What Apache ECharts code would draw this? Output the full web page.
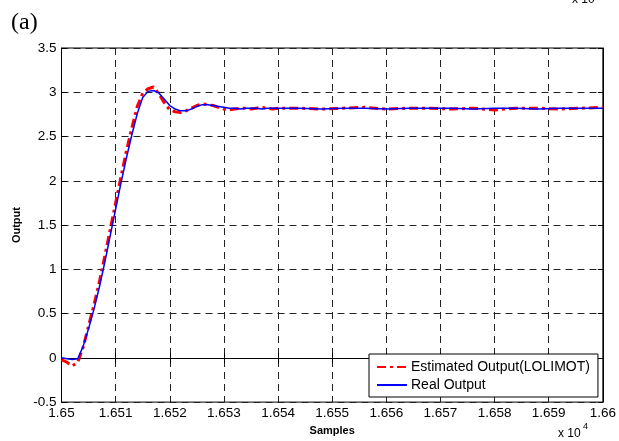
<!DOCTYPE html>
<html>
<head>
<meta charset="utf-8">
<script src="https://cdn.jsdelivr.net/npm/echarts@6/dist/echarts.min.js"></script>
<style>
  html, body { margin: 0; padding: 0; background: #fff; }
  #chart { width: 619px; height: 441px; }
</style>
</head>
<body>
<div id="chart"></div>
<script>
// x values (samples)
let samples = [
    16500, 16501, 16502, 16503, 16504, 16505, 16506, 16507, 16508, 16509,
    16510, 16511, 16512, 16513, 16514, 16515, 16516, 16517, 16518, 16519,
    16520, 16521, 16522, 16523, 16524, 16525, 16526, 16527, 16528, 16529,
    16530, 16531, 16532, 16533, 16534, 16535, 16536, 16537, 16538, 16539,
    16540, 16544, 16548, 16552, 16556, 16560, 16564, 16568, 16572, 16576,
    16580, 16584, 16588, 16592, 16596, 16600
];
// estimated output (LOLIMOT)
let estimated = [
    -0.02, -0.05, -0.09, -0.05, 0.12, 0.36, 0.60, 0.86, 1.15, 1.45,
    1.75, 2.05, 2.34, 2.60, 2.84, 2.99, 3.04, 3.06, 2.98, 2.88,
    2.80, 2.78, 2.77, 2.79, 2.82, 2.85, 2.87, 2.86, 2.85, 2.83,
    2.81, 2.80, 2.81, 2.82, 2.82, 2.81, 2.82, 2.83, 2.82, 2.81,
    2.82, 2.82, 2.81, 2.82, 2.83, 2.81, 2.82, 2.82, 2.81, 2.82,
    2.80, 2.82, 2.82, 2.81, 2.82, 2.83
];
// real output
let real = [
    0.00, -0.01, -0.02, -0.01, 0.13, 0.33, 0.55, 0.80, 1.08, 1.38,
    1.68, 1.98, 2.26, 2.52, 2.76, 2.94, 3.01, 3.02, 2.99, 2.92,
    2.85, 2.81, 2.79, 2.79, 2.81, 2.84, 2.86, 2.86, 2.85, 2.84,
    2.83, 2.82, 2.82, 2.81, 2.82, 2.82, 2.82, 2.81, 2.82, 2.82,
    2.82, 2.82, 2.81, 2.82, 2.82, 2.81, 2.82, 2.82, 2.82, 2.81,
    2.82, 2.82, 2.81, 2.82, 2.82, 2.82
];

let pair = (ys) => {
    let out = [];
    for (let i = 0; i < samples.length; i++) {
        out.push([samples[i], ys[i]]);
    }
    return out;
};

let myChart = echarts.init(document.getElementById('chart'));
let font = 'Liberation Sans, Arial, sans-serif';
let tickStyle = { show: true, inside: true, length: 5, lineStyle: { color: '#000', width: 1 } };
let gridDash = { color: '#222', width: 1, type: [7, 5] };

let option = {
    animation: false,
    backgroundColor: '#fff',
    grid: { left: 61.5, right: 12.5, top: 48, bottom: 37.5, show: true, borderColor: '#000', borderWidth: 1 },
    xAxis: [{
        type: 'value',
        min: 16500, max: 16600, interval: 10,
        axisLine: { show: true, lineStyle: { color: '#000' } },
        axisTick: tickStyle,
        axisLabel: {
            color: '#000', fontFamily: font, fontSize: 13.5, margin: 4,
            formatter: (v) => String(v / 10000)
        },
        splitLine: { show: true, lineStyle: gridDash },
        name: 'Samples',
        nameLocation: 'middle',
        nameGap: 21,
        nameTextStyle: { color: '#000', fontFamily: font, fontSize: 11, fontWeight: 'bold' }
    }, {
        type: 'value', position: 'top',
        min: 16500, max: 16600, interval: 10,
        axisLine: { show: true, lineStyle: { color: '#000' } },
        axisTick: tickStyle,
        axisLabel: { show: false },
        splitLine: { show: false }
    }],
    yAxis: [{
        type: 'value',
        min: -0.5, max: 3.5, interval: 0.5,
        axisLine: { show: true, lineStyle: { color: '#000' } },
        axisTick: tickStyle,
        axisLabel: { color: '#000', fontFamily: font, fontSize: 13.5, margin: 5 },
        splitLine: { show: true, lineStyle: gridDash },
        name: 'Output',
        nameLocation: 'middle',
        nameGap: 34,
        nameTextStyle: { color: '#000', fontFamily: font, fontSize: 11, fontWeight: 'bold' }
    }, {
        type: 'value', position: 'right',
        min: -0.5, max: 3.5, interval: 0.5,
        axisLine: { show: true, lineStyle: { color: '#000' } },
        axisTick: tickStyle,
        axisLabel: { show: false },
        splitLine: { show: false }
    }],
    legend: {
        orient: 'vertical',
        left: 369, top: 354,
        width: 232,
        padding: [6, 8, 5, 7],
        itemGap: 4,
        itemWidth: 30,
        itemHeight: 14,
        backgroundColor: '#fff',
        borderColor: '#000',
        borderWidth: 1,
        borderRadius: 0,
        itemStyle: { opacity: 0 },
        textStyle: { color: '#000', fontFamily: font, fontSize: 14, padding: [0, 0, 0, -1] },
        data: ['Estimated Output(LOLIMOT)', 'Real Output']
    },
    graphic: [
        { type: 'text', left: 11, top: 11, style: { text: '(a)', fill: '#000', font: '24px "Liberation Serif", serif' } },
        { type: 'text', left: 558, top: 428, style: { text: 'x 10', fill: '#000', font: '12px ' + font } },
        { type: 'text', left: 583, top: 422, style: { text: '4', fill: '#000', font: '9px ' + font } },
        { type: 'text', left: 572, top: -6, style: { text: 'x 10', fill: '#000', font: '12px ' + font } }
    ],
    series: [{
        name: 'Estimated Output(LOLIMOT)',
        type: 'line',
        data: pair(estimated),
        symbol: 'none',
        lineStyle: { color: '#ff0000', width: 3, type: [9, 4, 3, 4] },
        itemStyle: { color: '#ff0000' }
    }, {
        name: 'Real Output',
        type: 'line',
        data: pair(real),
        symbol: 'none',
        lineStyle: { color: '#0000ff', width: 1.5 },
        itemStyle: { color: '#0000ff' }
    }]
};
myChart.setOption(option);
</script>
</body>
</html>
